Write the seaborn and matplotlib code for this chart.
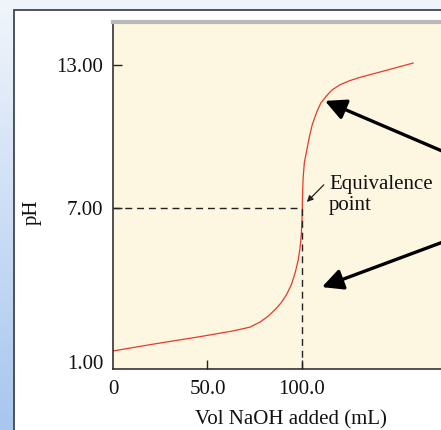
import numpy as np
import pandas as pd
import matplotlib
matplotlib.use('Agg')
import matplotlib.pyplot as plt
import matplotlib.transforms as mtransforms
from matplotlib.patches import Rectangle
from matplotlib.colors import LinearSegmentedColormap
import seaborn as sns

# ── data ───────────────────────────────────────────────────────────────────
vol_naoh = [0, 20, 46, 63.5, 72.5, 78, 82, 86, 89, 92, 94.5, 96.5, 98, 99,
            99.7, 100.1, 100.3, 100.6, 101.3, 102.6, 104, 105.5, 108, 110,
            113, 116, 120, 125, 130, 145, 159]
ph_vals = [1.0, 1.27, 1.6, 1.84, 2.0, 2.22, 2.45, 2.75, 3.02, 3.38, 3.8,
           4.3, 4.8, 5.3, 5.9, 6.6, 7.4, 8.2, 8.9, 9.43, 10.0, 10.5, 11.05,
           11.4, 11.7, 11.95, 12.16, 12.33, 12.46, 12.78, 13.08]
equiv_vol = 100.0
equiv_ph = 7.0
y_ticks = [1.0, 7.0, 13.0]
y_tick_labels = ["1.00", "7.00", "13.00"]
x_ticks = [0, 50, 100]
x_tick_labels = ["0", "50.0", "100.0"]

df = pd.DataFrame({'vol': vol_naoh, 'pH': ph_vals})

sns.set_style("ticks")
plt.rcParams['font.family'] = ['Liberation Serif', 'DejaVu Serif']

W, H = 441, 430
FS = 15
fig = plt.figure(figsize=(W / 100, H / 100), dpi=100)
fig.patch.set_facecolor('white')

# ── slide background: light blue gradient + white panel ────────────────────
bg = fig.add_axes([0, 0, 1, 1], zorder=-10)
bg.set_axis_off()
cmap = LinearSegmentedColormap.from_list('slide', ['#f1f5fb', '#a8c6ee'])
grad = np.linspace(0, 1, 256).reshape(-1, 1)
bg.imshow(grad, aspect='auto', cmap=cmap, extent=[0, 1, 0, 1], origin='upper')
bg.set_xlim(0, 1)
bg.set_ylim(0, 1)
bg.add_patch(Rectangle((0, 1 - 10 / H), 1, 10 / H, facecolor='#eff4fb',
                       edgecolor='none', transform=bg.transAxes))
bg.add_patch(Rectangle((14.5 / W, -0.05), 1.2, 1.05 - 10.5 / H,
                       facecolor='white', edgecolor='#3f4652', linewidth=1.3,
                       transform=bg.transAxes))

# ── main axes ──────────────────────────────────────────────────────────────
ax = fig.add_axes([113 / W, 61 / H, 340 / W, 347 / H])
ax.set_facecolor('#fdf7e1')

sns.lineplot(data=df, x='vol', y='pH', ax=ax, color='#e8382c',
             linewidth=0.9, estimator=None, sort=False)

ax.plot([0, equiv_vol], [equiv_ph, equiv_ph], color='#222222', lw=1.0,
        dashes=(5, 3.5))
ax.plot([equiv_vol, equiv_vol], [0.244, equiv_ph], color='#222222', lw=1.0,
        dashes=(5, 3.5))

ax.set_xlim(0, 180)
ax.set_ylim(0.244, 14.8)

ax.set_yticks(y_ticks + [14.8])
ax.set_yticklabels(y_tick_labels + [""], fontsize=FS)
ax.set_xticks(x_ticks)
ax.set_xticklabels(x_tick_labels, fontsize=FS)
ax.tick_params(direction='in', length=6.5, width=1.0, color='#222222',
               labelcolor='#111111')
ax.tick_params(axis='y', pad=7)
ax.tick_params(axis='x', pad=8)
ax.yaxis.get_major_ticks()[0].tick1line.set_visible(False)
ax.xaxis.get_major_ticks()[0].tick1line.set_visible(False)
# the "1.00" label sits a little below its value in the original
lab = ax.get_yticklabels()[0]
lab.set_transform(lab.get_transform() +
                  mtransforms.ScaledTranslation(0, -0.11, fig.dpi_scale_trans))

for side in ['left', 'bottom']:
    ax.spines[side].set_color('#222222')
    ax.spines[side].set_linewidth(1.1)
ax.spines['right'].set_visible(False)
ax.spines['top'].set_color('#b9b9b9')
ax.spines['top'].set_linewidth(3.0)

ax.set_xlabel("Vol NaOH added (mL)", fontsize=FS, color='#111111')
ax.xaxis.set_label_coords((291 - 113) / 340, -0.12)
ax.set_ylabel("pH", fontsize=FS, color='#111111')
ax.yaxis.set_label_coords(-(113 - 42) / 340, (369 - 212) / 347)

# ── annotations ────────────────────────────────────────────────────────────
ax.annotate("", xy=(102.6, 7.25), xytext=(111.6, 7.97),
            arrowprops=dict(arrowstyle='-|>', color='#222222', lw=0.9,
                            mutation_scale=9, shrinkA=0, shrinkB=0))
ax.text(114.3, 7.55, "Equivalence\npoint", fontsize=FS, ha='left',
        va='center', linespacing=1.15, color='#111111')

for tip, tail in [((112.2, 11.49), (188.9, 8.89)),
                  ((110.6, 3.68), (188.9, 5.99))]:
    ax.annotate("", xy=tip, xytext=tail, annotation_clip=False,
                arrowprops=dict(arrowstyle='-|>,head_length=0.9,head_width=0.45',
                                color='black', lw=2.4, mutation_scale=14,
                                shrinkA=0, shrinkB=0))

fig.savefig('out.png', dpi=100)
